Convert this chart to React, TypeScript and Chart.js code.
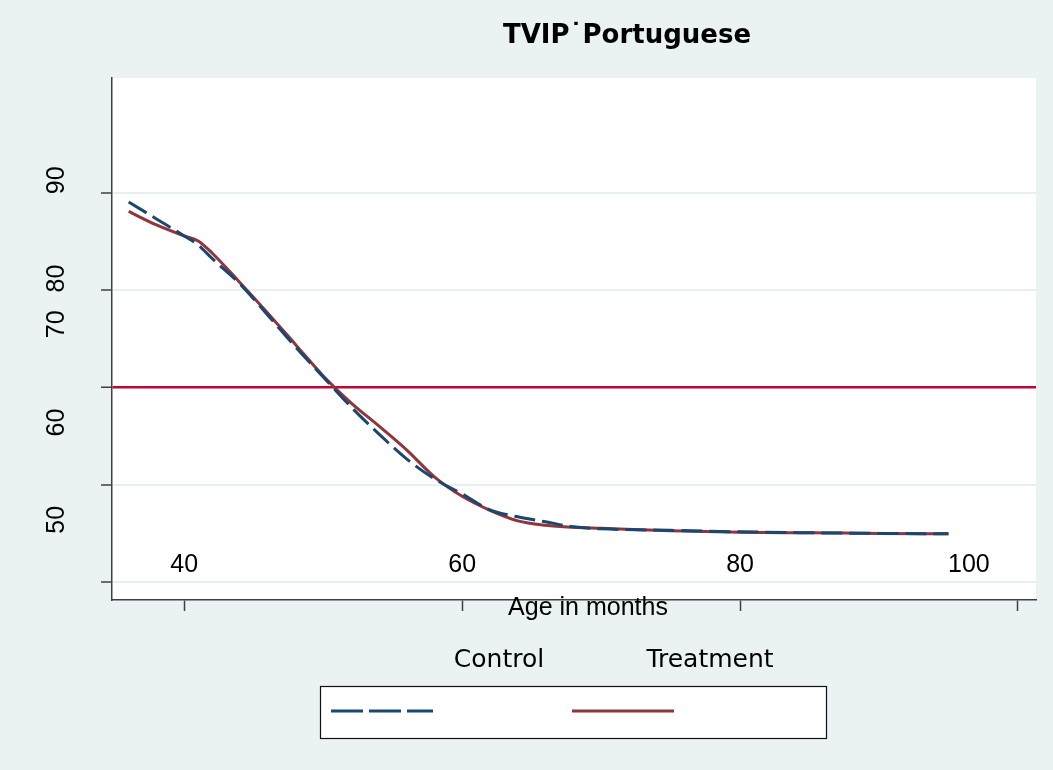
import React, { useEffect, useRef } from "react";
import { Chart, registerables } from "chart.js";

Chart.register(...registerables);

// ---- data ----
const ages = [36, 38, 40, 41, 42, 44, 46, 48, 50, 52, 54, 56, 58, 60, 62, 64, 66, 68, 70, 75, 80, 85, 90, 95];
const controlScores = [89.08, 87.33, 85.58, 84.66, 83.27, 80.65, 77.46, 74.17, 71.09, 68.01, 65.23, 62.66, 60.61, 59.06, 57.42, 56.7, 56.19, 55.67, 55.47, 55.31, 55.16, 55.06, 55.0, 54.95];
const treatmentScores = [88.1, 86.71, 85.58, 85.07, 83.83, 80.8, 77.67, 74.43, 71.19, 68.42, 66.05, 63.59, 60.81, 58.81, 57.37, 56.29, 55.83, 55.62, 55.52, 55.26, 55.11, 55.06, 55.0, 54.95];
const seriesNames = ["Control", "Treatment"];
const chartTitle = "TVIP˙Portuguese";
const xAxisTitle = "Age in months";

const xTickValues = [40, 60, 80, 100];
const xLabelValues = [40, 60, 80, 96.47];
const xLabelTexts = ["40", "60", "80", "100"];
const xRange = [34.8, 101.3];

const yGridValues = [50, 60, 70, 80, 90];
const yLabelValues = [56.4, 66.4, 76.5, 81.2, 91.3];
const yLabelTexts = ["50", "60", "70", "80", "90"];
const yRange = [48.15, 101.82];
const referenceLine = 70;

// ---- styles ----
const BG = "#eaf2f3";
const NAVY = "#1a476f";
const MAROON = "#90353b";
const CRANBERRY = "#c10534";
const AXIS = "#404040";
const SANS = '"Liberation Sans", Arial, sans-serif';
const VERDANA = '"DejaVu Sans", Verdana, sans-serif';

type T = { value: number; txt: string; mark: boolean };
const makeTicks = (marks: number[], labelVals: number[], texts: string[]): T[] =>
  [
    ...marks.map((v) => ({ value: v, txt: "", mark: true })),
    ...labelVals.map((v, i) => ({ value: v, txt: texts[i], mark: false })),
  ].sort((a, b) => a.value - b.value);

const decorPlugin = {
  id: "decor",
  beforeDraw(chart: any) {
    const { ctx, chartArea } = chart;
    ctx.save();
    ctx.fillStyle = BG;
    ctx.fillRect(0, 0, chart.width, chart.height);
    ctx.fillStyle = "#ffffff";
    ctx.fillRect(chartArea.left, chartArea.top, chartArea.right - chartArea.left, chartArea.bottom - chartArea.top);
    ctx.restore();
  },
  afterDraw(chart: any) {
    const { ctx } = chart;
    ctx.save();
    // title
    ctx.fillStyle = "#000";
    ctx.font = `bold 26px ${VERDANA}`;
    ctx.textAlign = "center";
    ctx.textBaseline = "alphabetic";
    ctx.fillText(chartTitle, 627, 43);
    // x axis title
    ctx.font = `25px ${SANS}`;
    ctx.textBaseline = "middle";
    ctx.fillText(xAxisTitle, 588, 608);
    // legend labels
    ctx.textBaseline = "alphabetic";
    ctx.font = `25px ${VERDANA}`;
    ctx.fillText(seriesNames[0], 499, 667);
    ctx.fillText(seriesNames[1], 710, 667);
    // legend box
    ctx.fillStyle = "#ffffff";
    ctx.fillRect(320, 686, 506, 52);
    ctx.strokeStyle = "#111";
    ctx.lineWidth = 1.2;
    ctx.strokeRect(320.5, 686.5, 506, 52);
    // samples
    ctx.lineWidth = 3;
    ctx.strokeStyle = NAVY;
    ctx.setLineDash([32, 6]);
    ctx.beginPath();
    ctx.moveTo(331, 711);
    ctx.lineTo(433, 711);
    ctx.stroke();
    ctx.setLineDash([]);
    ctx.strokeStyle = MAROON;
    ctx.beginPath();
    ctx.moveTo(572, 711);
    ctx.lineTo(674, 711);
    ctx.stroke();
    ctx.restore();
  },
};

export default function App() {
  const ref = useRef<HTMLCanvasElement | null>(null);

  useEffect(() => {
    if (!ref.current) return;
    const xTicks = makeTicks(xTickValues, xLabelValues, xLabelTexts);
    const yTicks = makeTicks(yGridValues, yLabelValues, yLabelTexts);
    const clear = "rgba(0,0,0,0)";

    const chart = new Chart(ref.current, {
      type: "line",
      data: {
        datasets: [
          {
            label: seriesNames[0],
            data: ages.map((a, i) => ({ x: a, y: controlScores[i] })),
            borderColor: NAVY,
            borderWidth: 3,
            borderDash: [21, 7],
            pointRadius: 0,
            fill: false,
            cubicInterpolationMode: "monotone",
          },
          {
            label: seriesNames[1],
            data: ages.map((a, i) => ({ x: a, y: treatmentScores[i] })),
            borderColor: MAROON,
            borderWidth: 3,
            pointRadius: 0,
            fill: false,
            cubicInterpolationMode: "monotone",
          },
        ],
      },
      options: {
        responsive: false,
        devicePixelRatio: 1,
        animation: false,
        layout: { padding: { left: 11, top: 78, right: 17, bottom: 119 } },
        plugins: {
          legend: { display: false },
          tooltip: { enabled: false },
          title: { display: false },
        },
        scales: {
          x: {
            type: "linear",
            min: xRange[0],
            max: xRange[1],
            afterBuildTicks: (axis: any) => {
              axis.ticks = xTicks.map((t) => ({ ...t }));
            },
            ticks: {
              autoSkip: false,
              minRotation: 0,
              maxRotation: 0,
              mirror: true,
              padding: 20,
              color: "#000",
              font: { family: SANS, size: 25 },
              callback: (_v: any, i: number, ticks: any[]) => ticks[i].txt,
            },
            grid: {
              drawOnChartArea: false,
              drawTicks: true,
              tickLength: 11,
              tickWidth: 1.5,
              color: clear,
              tickColor: (c: any) => (c.tick && c.tick.mark ? AXIS : clear),
            },
            border: { display: true, color: AXIS, width: 1.5 },
            title: { display: false },
          },
          y: {
            type: "linear",
            min: yRange[0],
            max: yRange[1],
            afterBuildTicks: (axis: any) => {
              axis.ticks = yTicks.map((t) => ({ ...t }));
            },
            ticks: {
              autoSkip: false,
              minRotation: 90,
              maxRotation: 90,
              crossAlign: "center",
              padding: 30,
              color: "#000",
              font: { family: SANS, size: 25 },
              callback: (_v: any, i: number, ticks: any[]) => ticks[i].txt,
            },
            grid: {
              drawOnChartArea: true,
              drawTicks: true,
              tickLength: 11,
              tickWidth: 1.5,
              color: (c: any) =>
                !c.tick || !c.tick.mark ? clear : c.tick.value === referenceLine ? CRANBERRY : "#e7eff1",
              lineWidth: (c: any) => (c.tick && c.tick.value === referenceLine ? 2.5 : 2),
              tickColor: (c: any) => (c.tick && c.tick.mark ? AXIS : clear),
            },
            border: { display: true, color: AXIS, width: 1.5 },
          },
        },
      },
      plugins: [decorPlugin],
    } as any);

    return () => chart.destroy();
  }, []);

  return (
    <div style={{ position: "fixed", left: 0, top: 0, width: 1053, height: 770, background: BG }}>
      <canvas ref={ref} width={1053} height={770} style={{ display: "block" }} />
    </div>
  );
}
